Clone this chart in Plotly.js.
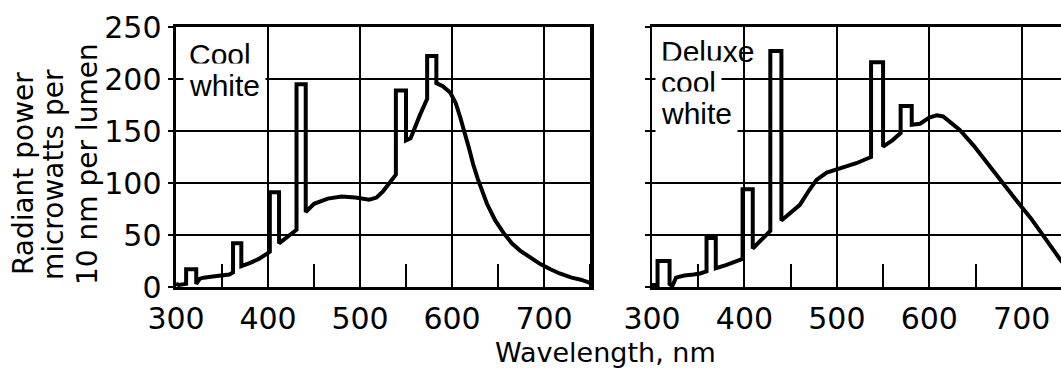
<!DOCTYPE html>
<html><head><meta charset="utf-8">
<script src="https://cdn.plot.ly/plotly-3.0.1.min.js"></script>
<style>html,body{margin:0;padding:0;background:#fff}#chart{width:1061px;height:373px}</style>
</head><body><div id="chart"></div>
<script>
// Cool white spectrum (wavelength nm, radiant power µW per 10 nm per lumen)
const wlCool = [300,303,311,311,322,322,326,330,340,350,358,362,362,371,371,380,390,399,402,402,412,412,420,431,431,441,441,450,465,480,495,510,518,525,532,539,539,550,550,555,565,573,573,583,583,590,598,604,609,614,618,623,628,638,647,656,665,674,685,696,707,717,730,740,750];
const pwrCool = [3,2,3,17,17,3,8,9,10,11,12,14,42,42,20,23,27,32,34,91,91,42,47,55,195,195,72,80,85,87,86,84,86,92,100,108,189,189,141,143,165,181,222,222,196,193,187,177,163,149,135,118,104,80,64,52,42,35,28,22,17,13,9,7,4];
// Deluxe cool white spectrum
const wlDeluxe = [300,306,306,319,319,322,326,335,345,352,359,359,369,369,380,390,398,398,409,409,418,428,428,440,440,450,460,470,478,489,503,521,537,537,550,550,560,569,569,581,581,590,600,608,615,622,633,648,660,673,686,698,710,720,731,742,750];
const pwrDeluxe = [2,2,25,25,3,1,9,11,12,13,15,47,47,18,21,24,27,94,94,37,45,54,227,227,64,71,79,93,103,110,114,119,125,216,216,135,141,148,174,174,156,157,163,165,164,159,151,136,122,108,93,79,66,53,39,26,17];

const xTickVals = [300,400,500,600,700];
const xTickText = ['300','400','500','600','700'];
const minorTickVals = [350,450,550,650,750];
const yTickVals = [0,50,100,150,200,250];
const yTickText = ['0','50','100','150','200','250'];
const panelLabels = [['Cool','white'],['Deluxe','cool','white']];
const yTitleLines = ['Radiant power','microwatts per','10 nm per lumen'];
const xTitle = 'Wavelength, nm';

const W = 1061, H = 373;
const tickFont = {family:'DejaVu Sans', size:30, color:'#000'};
const lineStyle = {color:'#000', width:4};

const traces = [
  {x: wlCool, y: pwrCool, xaxis:'x', yaxis:'y', mode:'lines', line: lineStyle, hoverinfo:'skip'},
  {x: wlDeluxe, y: pwrDeluxe, xaxis:'x2', yaxis:'y2', mode:'lines', line: lineStyle, hoverinfo:'skip'}
];

const yDom = [(H-287)/H, (H-27)/H];
function xAx(domain, range){
  return {domain, range, tickmode:'array', tickvals:xTickVals, ticktext:xTickText, ticks:'',
    ticklabelstandoff:3,
    showgrid:true, gridcolor:'#000', gridwidth:2, showline:true, linecolor:'#000', linewidth:3,
    mirror:true, zeroline:false, tickfont:tickFont, fixedrange:true,
    minor:{tickmode:'array', tickvals:minorTickVals, ticks:'inside', ticklen:23, tickwidth:2, tickcolor:'#000', showgrid:false}};
}
function yAx(showLabels, mirror, lw){
  return {domain:yDom, range:[0,250], tickmode:'array', tickvals:yTickVals, ticktext:yTickText,
    showticklabels:showLabels, ticks:'outside', ticklen:5, tickwidth:2, tickcolor:'#000',
    showgrid:true, gridcolor:'#000', gridwidth:2, showline:true, linecolor:'#000', linewidth:lw,
    mirror:mirror, zeroline:false, tickfont:tickFont, fixedrange:true};
}

const layout = {
  width:W, height:H, margin:{l:0,r:0,t:0,b:0}, paper_bgcolor:'#fff', plot_bgcolor:'#fff', showlegend:false,
  xaxis: Object.assign(xAx([176/W, 590/W], [300,750]), {anchor:'y'}),
  yaxis: Object.assign(yAx(true, true, 3.5), {anchor:'x'}),
  xaxis2: Object.assign(xAx([652/W, 1], [300,742.5]), {anchor:'y2'}),
  yaxis2: Object.assign(yAx(false, false, 2.5), {anchor:'x2'}),
  annotations: []
};

const labFont = {family:'Liberation Sans', size:30, color:'#000'};
// Left panel labels
layout.annotations.push({xref:'paper', yref:'paper', x:183/W, y:1-55/H, xanchor:'left', yanchor:'middle', text:panelLabels[0][0], showarrow:false, font:labFont, borderpad:5});
layout.annotations.push({xref:'paper', yref:'paper', x:183/W, y:1-86/H, xanchor:'left', yanchor:'middle', text:panelLabels[0][1], showarrow:false, font:labFont, borderpad:5, bgcolor:'#fff'});
// Right panel labels
const rightCenters = [51.6, 82.6, 113.6];
panelLabels[1].forEach((t,i)=>{
  layout.annotations.push({xref:'paper', yref:'paper', x:655/W, y:1-rightCenters[i]/H, xanchor:'left', yanchor:'middle', text:t, showarrow:false, font:labFont, borderpad:5, bgcolor: i===0 ? 'rgba(0,0,0,0)' : '#fff'});
});
// Y title lines
const yTitleX = [23.6, 53.6, 87];
const yTitleBottom = [276, 281, 286];
yTitleLines.forEach((t,i)=>{
  layout.annotations.push({xref:'paper', yref:'paper', x:yTitleX[i]/W, y:1-yTitleBottom[i]/H, xanchor:'center', yanchor:'bottom', textangle:-90, text:t, showarrow:false, font:{family:'DejaVu Sans', size:28, color:'#000'}, borderpad:0});
});
// X title
layout.annotations.push({xref:'paper', yref:'paper', x:605/W, y:1-352.7/H, xanchor:'center', yanchor:'middle', text:xTitle, showarrow:false, font:{family:'DejaVu Sans', size:27, color:'#000'}});

Plotly.newPlot('chart', traces, layout, {staticPlot:true, displayModeBar:false});
</script></body></html>
